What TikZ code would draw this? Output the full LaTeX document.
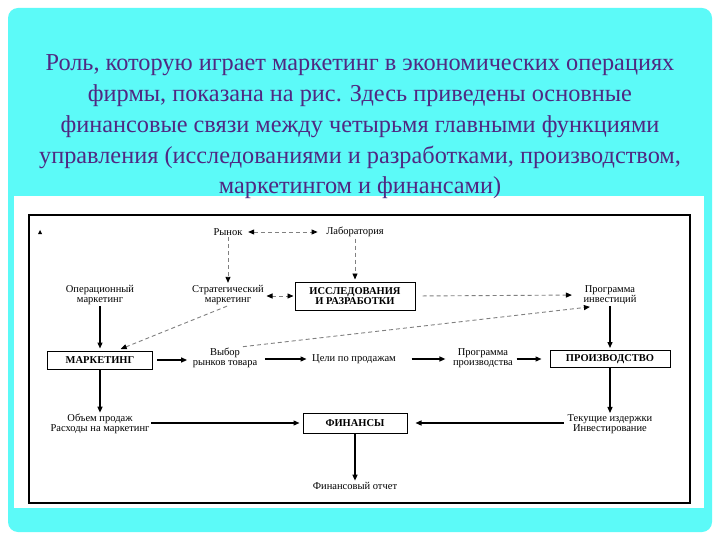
\documentclass[tikz,border=0pt]{standalone}
\usepackage{fontspec}
\setmainfont{Liberation Serif}
\usetikzlibrary{arrows.meta}
\definecolor{bgcyan}{RGB}{92,250,248}
\definecolor{titlecol}{RGB}{80,40,130}
\begin{document}
\begin{tikzpicture}[x=1pt,y=-1pt,
  titletext/.style={text=titlecol, font=\fontsize{24.3}{24.3}\selectfont, inner sep=0pt, anchor=base},
  lbl/.style={font=\fontsize{10.5}{9.5}\selectfont, align=center, inner sep=1.5pt},
  boxnode/.style={draw, line width=1pt, font=\bfseries\fontsize{10.5}{10.5}\selectfont, align=center, inner sep=0pt},
  solidarr/.style={line width=1.3pt, -{Triangle[length=6pt,width=5pt]}},
  dasharr/.style={draw=black!50, line width=0.9pt, dash pattern=on 4pt off 3pt, -{Triangle[length=6pt,width=5pt,black]}},
  dashboth/.style={draw=black!50, line width=0.9pt, dash pattern=on 4pt off 3pt, {Triangle[length=6pt,width=5pt,black]}-{Triangle[length=6pt,width=5pt,black]}}
]
\useasboundingbox (0,0) rectangle (720,540);
\fill[white] (0,0) rectangle (720,540);
\fill[bgcyan, rounded corners=10pt] (8,8) rectangle (712,532);
\fill[white] (14,196) rectangle (704,508);
\draw[line width=1.2pt] (29,215) rectangle (690,503);
\fill (38,234) -- (42,234) -- (40,230) -- cycle;

% title
\node[titletext] (t1) at (360,71) {Роль, которую играет маркетинг в экономических операциях};
\node[titletext] (t2) at (360,102) {фирмы, показана на рис. Здесь приведены основные};
\node[titletext] (t3) at (360,133) {финансовые связи между четырьмя главными функциями};
\node[titletext] (t4) at (360,164) {управления (исследованиями и разработками, производством,};
\node[titletext] (t5) at (360,194) {маркетингом и финансами)};

% labels
\node[lbl] (rynok) at (228,232) {Рынок};
\node[lbl] (lab) at (355,232) {Лаборатория};
\node[lbl] (oper) at (100,295) {Операционный\\маркетинг};
\node[lbl] (strat) at (228,295) {Стратегический\\маркетинг};
\node[boxnode, minimum width=120pt, minimum height=28pt] (rd) at (355,296) {ИССЛЕДОВАНИЯ\\И РАЗРАБОТКИ};
\node[lbl] (invest) at (610,295) {Программа\\инвестиций};
\node[boxnode, minimum width=105pt, minimum height=18pt] (mkt) at (100,360) {МАРКЕТИНГ};
\node[lbl] (vybor) at (225,358) {Выбор\\рынков товара};
\node[lbl] (goals) at (354,359) {Цели по продажам};
\node[lbl] (pprod) at (483,358) {Программа\\производства};
\node[boxnode, minimum width=120pt, minimum height=17pt] (prod) at (610,359) {ПРОИЗВОДСТВО};
\node[lbl] (sales) at (100,424) {Объем продаж\\Расходы на маркетинг};
\node[boxnode, minimum width=104pt, minimum height=20pt] (fin) at (355,423) {ФИНАНСЫ};
\node[lbl] (costs) at (610,424) {Текущие издержки\\Инвестирование};
\node[lbl] (report) at (355,486) {Финансовый отчет};

% dashed connectors
\draw[dashboth, shorten <=4pt, shorten >=7pt] (rynok.east) -- (lab.west);
\draw[dasharr, shorten >=1pt] (rynok.south) -- (strat.north);
\draw[dasharr, shorten >=2pt] (lab.south) -- (rd.north);
\draw[dashboth, shorten <=1pt, shorten >=1pt] (strat.east |- rd.west) -- (rd.west);
\draw[dasharr, shorten <=7pt, shorten >=10pt] (rd.east) -- (invest.west);
\draw[dasharr, shorten >=4pt] ([xshift=-1pt]strat.south) -- ([xshift=17pt]mkt.north);
\draw[dasharr] ([xshift=18pt]vybor.north) -- ([xshift=8pt,yshift=-1pt]invest.south west);

% solid connectors
\draw[solidarr, shorten >=2pt] (oper.south) -- (mkt.north);
\draw[solidarr, shorten >=2pt] (invest.south) -- (prod.north);
\draw[solidarr, shorten <=4pt, shorten >=4pt] (mkt.east) -- (vybor.west |- mkt.east);
\draw[solidarr, shorten <=6pt, shorten >=4pt] (vybor.east |- goals.west) -- (goals.west);
\draw[solidarr, shorten <=14pt, shorten >=6pt] (goals.east) -- (pprod.west |- goals.east);
\draw[solidarr, shorten <=2pt, shorten >=8pt] (pprod.east |- prod.west) -- (prod.west);
\draw[solidarr] (mkt.south) -- (sales.north);
\draw[solidarr] (prod.south) -- (costs.north);
\draw[solidarr, shorten >=3pt] (sales.east |- fin.west) -- (fin.west);
\draw[solidarr, shorten <=2pt, shorten >=8pt] (costs.west |- fin.east) -- (fin.east);
\draw[solidarr] (fin.south) -- (report.north);
\end{tikzpicture}
\end{document}
